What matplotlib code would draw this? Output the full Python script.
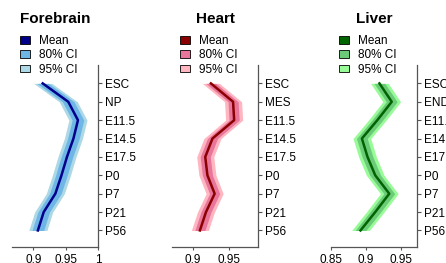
import matplotlib
matplotlib.use("Agg")
import matplotlib.pyplot as plt
from matplotlib.patches import Patch
from matplotlib.ticker import FuncFormatter

plt.rcParams["font.family"] = ["Liberation Sans", "DejaVu Sans"]

# stages (top to bottom)
forebrain_stages = ["ESC", "NP", "E11.5", "E14.5", "E17.5", "P0", "P7", "P21", "P56"]
heart_stages = ["ESC", "MES", "E11.5", "E14.5", "E17.5", "P0", "P7", "P21", "P56"]
liver_stages = ["ESC", "END", "E11.5", "E14.5", "E17.5", "P0", "P7", "P21", "P56"]

# posterior means
forebrain_mean = [0.9145, 0.954, 0.969, 0.962, 0.952, 0.9435, 0.934, 0.916, 0.907]
heart_mean = [0.9248, 0.9555, 0.957, 0.927, 0.917, 0.920, 0.930, 0.918, 0.9096]
liver_mean = [0.919, 0.9365, 0.916, 0.894, 0.902, 0.913, 0.933, 0.913, 0.892]

# half widths of the credible intervals
forebrain_hw80 = [0.009, 0.009, 0.009, 0.009, 0.009, 0.009, 0.009, 0.009, 0.009]
forebrain_hw95 = [0.014, 0.014, 0.014, 0.014, 0.014, 0.014, 0.014, 0.014, 0.014]
heart_hw80 = [0.007, 0.007, 0.007, 0.007, 0.007, 0.007, 0.007, 0.007, 0.007]
heart_hw95 = [0.0118, 0.0118, 0.0118, 0.0118, 0.0118, 0.0118, 0.0118, 0.0118, 0.0118]
liver_hw80 = [0.0077, 0.0077, 0.0077, 0.0077, 0.0077, 0.0077, 0.0077, 0.0077, 0.0077]
liver_hw95 = [0.0126, 0.0126, 0.0126, 0.0126, 0.0126, 0.0126, 0.0126, 0.0126, 0.0126]

panels = [
    ("Forebrain", forebrain_stages, forebrain_mean, forebrain_hw80, forebrain_hw95,
     ("#00008B", "#6DB6E6", "#ADD8E6"), (0.867, 1.0), [0.9, 0.95, 1.0], 12),
    ("Heart", heart_stages, heart_mean, heart_hw80, heart_hw95,
     ("#8B0000", "#E8759A", "#FFB6C1"), (0.871, 0.99), [0.9, 0.95], 172),
    ("Liver", liver_stages, liver_mean, liver_hw80, liver_hw95,
     ("#006400", "#6CCB78", "#98FB98"), (0.85, 0.9725), [0.85, 0.9, 0.95], 331),
]

W, H = 446, 263
fig = plt.figure(figsize=(W / 100, H / 100), dpi=100)

for title, stages, mean, hw80, hw95, cols, xlim, xticks, left_px in panels:
    ax = fig.add_axes([left_px / W, 16 / H, 86 / W, 182 / H])
    y = list(range(len(stages)))
    lo95 = [m - h for m, h in zip(mean, hw95)]
    hi95 = [m + h for m, h in zip(mean, hw95)]
    lo80 = [m - h for m, h in zip(mean, hw80)]
    hi80 = [m + h for m, h in zip(mean, hw80)]
    ax.fill_betweenx(y, lo95, hi95, color=cols[2], linewidth=0)
    ax.fill_betweenx(y, lo80, hi80, color=cols[1], linewidth=0)
    ax.plot(mean, y, color=cols[0], lw=1.8)

    ax.set_xlim(*xlim)
    ax.set_ylim(8.9, -1)
    ax.set_yticks(y)
    ax.set_yticklabels(stages)
    ax.set_xticks(xticks)
    ax.xaxis.set_major_formatter(FuncFormatter(lambda v, p: "%g" % v))
    ax.yaxis.tick_right()
    for s in ["left", "top"]:
        ax.spines[s].set_visible(False)
    for s in ["right", "bottom"]:
        ax.spines[s].set_color("#555555")
        ax.spines[s].set_linewidth(0.9)
    ax.tick_params(axis="y", length=3, width=0.8, color="#555555", pad=2, labelsize=8.5)
    ax.tick_params(axis="x", length=2, width=0.8, color="#555555", pad=3, labelsize=8.5)

    cx = (left_px + 43) / W
    fig.text(cx, 1 - 19 / H, title, ha="center", va="center",
             fontsize=11, fontweight="bold")

    handles = [Patch(facecolor=cols[0], edgecolor="black", linewidth=0.6),
               Patch(facecolor=cols[1], edgecolor="black", linewidth=0.6),
               Patch(facecolor=cols[2], edgecolor="black", linewidth=0.6)]
    ax.legend(handles, ["Mean", "80% CI", "95% CI"], loc="upper left",
              bbox_to_anchor=((left_px + 8) / W, 1 - 35 / H),
              bbox_transform=fig.transFigure, frameon=False, fontsize=8.5,
              handlelength=0.85, handleheight=0.6, handletextpad=0.75,
              labelspacing=0.2, borderpad=0, borderaxespad=0)

fig.savefig("out.png", dpi=100)
